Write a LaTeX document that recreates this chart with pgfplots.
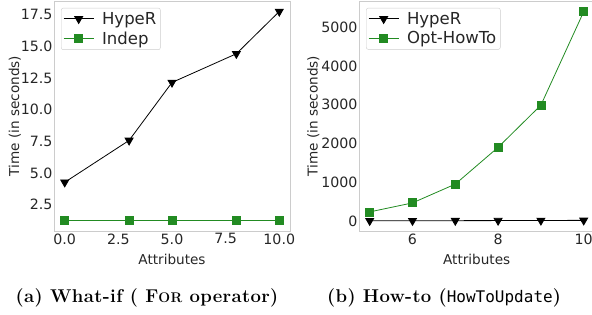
\documentclass[border=0pt]{standalone}
\usepackage{pgfplots}
\pgfplotsset{compat=1.18}
\usepackage{fontspec}
\setmainfont{DejaVu Sans}
\newfontfamily\capfont[LetterSpace=2]{Latin Modern Roman}
\newfontfamily\capmono{DejaVu Sans Mono}
\definecolor{fgreen}{HTML}{228B22}
\definecolor{spine}{HTML}{CCCCCC}
\pgfplotsset{
  myax/.style={
    scale only axis,
    anchor=south west,
    axis line style={spine, line width=0.8pt},
    tick style={draw=none},
    major tick length=0pt,
    font=\fontsize{13.3}{15}\selectfont,
    tick label style={font=\fontsize{14.2}{16}\selectfont, text=black!85},
    label style={font=\fontsize{13.6}{15}\selectfont, text=black!85},
    /pgf/number format/assume math mode=true,
    /pgf/number format/1000 sep={},
    xtick pos=bottom, ytick pos=left,
    xticklabel style={yshift=1pt},
    yticklabel style={xshift=2pt},
    legend style={draw=spine, rounded corners=2pt, font=\fontsize{16.5}{18}\selectfont, text=black!85, inner sep=2pt, row sep=2pt,
      /tikz/every odd column/.append style={column sep=6pt}},
    legend cell align=left,
    legend image code/.code={
      \draw[mark repeat=2,mark phase=2,##1] plot coordinates {(0pt,0pt)(15pt,0pt)(30pt,0pt)};
    },
  },
  hyp/.style={black, line width=0.8pt, mark=triangle*, mark options={rotate=180, solid, fill=black}, mark size=4.6pt},
  grn/.style={fgreen, line width=0.8pt, mark=square*, mark options={solid, fill=fgreen}, mark size=4pt},
}
\begin{document}
\begin{tikzpicture}[x=1pt,y=1pt]
\begin{axis}[myax,
  at={(54pt,83pt)}, width=236pt, height=230pt,
  xmin=-0.5, xmax=10.5, ymin=0.41, ymax=18.59,
  xtick={0,2.5,5,7.5,10}, ytick={2.5,5,7.5,10,12.5,15,17.5},
  xticklabel style={/pgf/number format/.cd, fixed, fixed zerofill, precision=1},
  yticklabel style={/pgf/number format/.cd, fixed, fixed zerofill, precision=1},
  xlabel={Attributes}, ylabel={Time (in seconds)},
  xlabel style={yshift=-3pt}, ylabel style={yshift=-7pt},
  legend style={at={(0.03,0.97)}, anchor=north west},
]
\addplot[hyp] coordinates {(0,4.26) (3,7.57) (5,12.15) (8,14.42) (10,17.76)};
\addlegendentry{HypeR}
\addplot[grn] coordinates {(0,1.24) (3,1.24) (5,1.24) (8,1.24) (10,1.24)};
\addlegendentry{Indep}
\end{axis}
\begin{axis}[myax,
  at={(359pt,83pt)}, width=235.4pt, height=230pt,
  xmin=4.75, xmax=10.25, ymin=-259, ymax=5682,
  xtick={6,8,10}, ytick={0,1000,2000,3000,4000,5000},
  xlabel={Attributes}, ylabel={Time (in seconds)},
  xlabel style={yshift=-3pt}, ylabel style={yshift=-5pt},
  legend style={at={(0.03,0.97)}, anchor=north west},
]
\addplot[hyp] coordinates {(5,5) (6,6) (7,8) (8,10) (9,13) (10,16)};
\addlegendentry{HypeR}
\addplot[grn] coordinates {(5,234) (6,467) (7,952) (8,1902) (9,2992) (10,5405)};
\addlegendentry{Opt-HowTo}
\end{axis}
\node[font=\capfont\bfseries\fontsize{18.5}{21}\selectfont, anchor=base, inner sep=0pt] at (147pt,12pt) {(a) What-if ( F{\fontsize{14}{16}\selectfont OR} operator)};
\node[font=\capfont\bfseries\fontsize{18.5}{21}\selectfont, anchor=base, inner sep=0pt] at (444pt,12pt) {(b) How-to ({\mdseries\capmono\fontsize{16}{18}\selectfont HowToUpdate})};
\pgfresetboundingbox
\path[use as bounding box] (0,0) rectangle (592pt,314pt);
\end{tikzpicture}
\end{document}
